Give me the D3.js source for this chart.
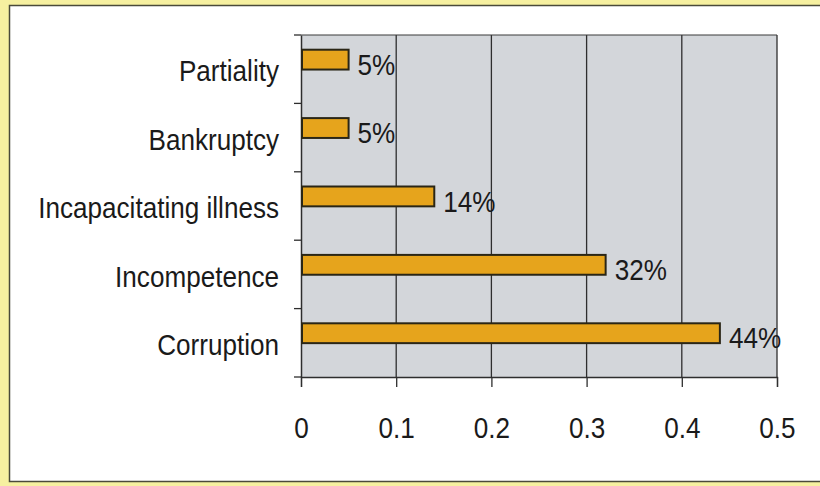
<!DOCTYPE html>
<html><head><meta charset="utf-8">
<script src="https://cdn.jsdelivr.net/npm/d3@7"></script>
<style>
html,body{margin:0;padding:0;background:#f7f0a8;}
svg{display:block;}
text{font-family:"Liberation Sans",Arial,sans-serif;fill:#1a1a1a;}
</style></head>
<body>
<svg id="chart" width="820" height="486"></svg>
<script>
const categories = ["Partiality","Bankruptcy","Incapacitating illness","Incompetence","Corruption"];
const values = [0.05,0.05,0.14,0.32,0.44];
const valueLabels = ["5%","5%","14%","32%","44%"];
const xTicks = [0,0.1,0.2,0.3,0.4,0.5];

const squeeze = 0.9; // narrow typeface look
const svg = d3.select("#chart");
// outer panel
svg.append("rect").attr("x",0).attr("y",0).attr("width",820).attr("height",486).attr("fill","#f6f0a0");
svg.append("rect").attr("x",9.5).attr("y",5.5).attr("width",820).attr("height",476)
  .attr("fill","#ffffff").attr("stroke","#4a4a3a").attr("stroke-width",1.5);

const m = {left:301, top:35, right:777, bottom:377};
const x = d3.scaleLinear().domain([0,0.5]).range([m.left,m.right]);
const y = d3.scaleBand().domain(categories).range([m.top,m.bottom]).paddingInner(0).paddingOuter(0);

// plot background
svg.append("rect").attr("x",m.left).attr("y",m.top).attr("width",m.right-m.left).attr("height",m.bottom-m.top)
  .attr("fill","#d3d6da");

// gridlines
svg.append("g").selectAll("line").data(xTicks.slice(1)).join("line")
  .attr("x1",d=>x(d)).attr("x2",d=>x(d)).attr("y1",m.top).attr("y2",m.bottom)
  .attr("stroke","#2e2e2e").attr("stroke-width",1.3);
// top border
svg.append("line").attr("x1",m.left).attr("x2",m.right).attr("y1",m.top).attr("y2",m.top)
  .attr("stroke","#3a3a3a").attr("stroke-width",1.2);

// x axis
const xAxis = d3.axisBottom(x).tickValues(xTicks).tickFormat(d3.format("")).tickSize(10).tickPadding(30);
const gx = svg.append("g").attr("transform",`translate(0,${m.bottom})`).call(xAxis);
gx.select(".domain").attr("stroke","#2e2e2e").attr("stroke-width",1.3);
gx.selectAll(".tick line").attr("stroke","#2e2e2e").attr("stroke-width",1.3);
gx.selectAll("text").attr("font-size",29).attr("fill","#1a1a1a")
  .style("font-family",'"Liberation Sans",Arial,sans-serif')
  .attr("transform",`scale(${squeeze},1)`);

// y axis
const yAxis = d3.axisLeft(y).tickSize(0).tickPadding(22);
const gy = svg.append("g").attr("transform",`translate(${m.left},0)`).call(yAxis);
gy.select(".domain").attr("stroke","#2e2e2e").attr("stroke-width",1.5);
gy.selectAll("text").attr("font-size",29).attr("fill","#1a1a1a").attr("dy","0.42em")
  .style("font-family",'"Liberation Sans",Arial,sans-serif')
  .attr("x",0).attr("transform",`translate(-22,0) scale(${squeeze},1)`);
// y ticks at band boundaries
const bounds = categories.map(c=>y(c)).concat([m.bottom]);
svg.append("g").selectAll("line").data(bounds).join("line")
  .attr("x1",m.left-7).attr("x2",m.left).attr("y1",d=>d).attr("y2",d=>d)
  .attr("stroke","#2e2e2e").attr("stroke-width",1.3);

// bars
const bw = y.bandwidth();
svg.append("g").selectAll("rect").data(categories).join("rect")
  .attr("x",x(0)+1).attr("y",c=>y(c)+bw*0.215).attr("height",bw*0.29)
  .attr("width",(c,i)=>x(values[i])-x(0)-1)
  .attr("fill","#e6a41c").attr("stroke","#2a2616").attr("stroke-width",2);

// value labels
svg.append("g").selectAll("text").data(categories).join("text")
  .attr("transform",(c,i)=>`translate(${x(values[i])+9},${y(c)+bw*0.43}) scale(${squeeze},1)`)
  .attr("dy","0.36em")
  .attr("font-size",29).text((c,i)=>valueLabels[i]);
</script>
</body></html>
